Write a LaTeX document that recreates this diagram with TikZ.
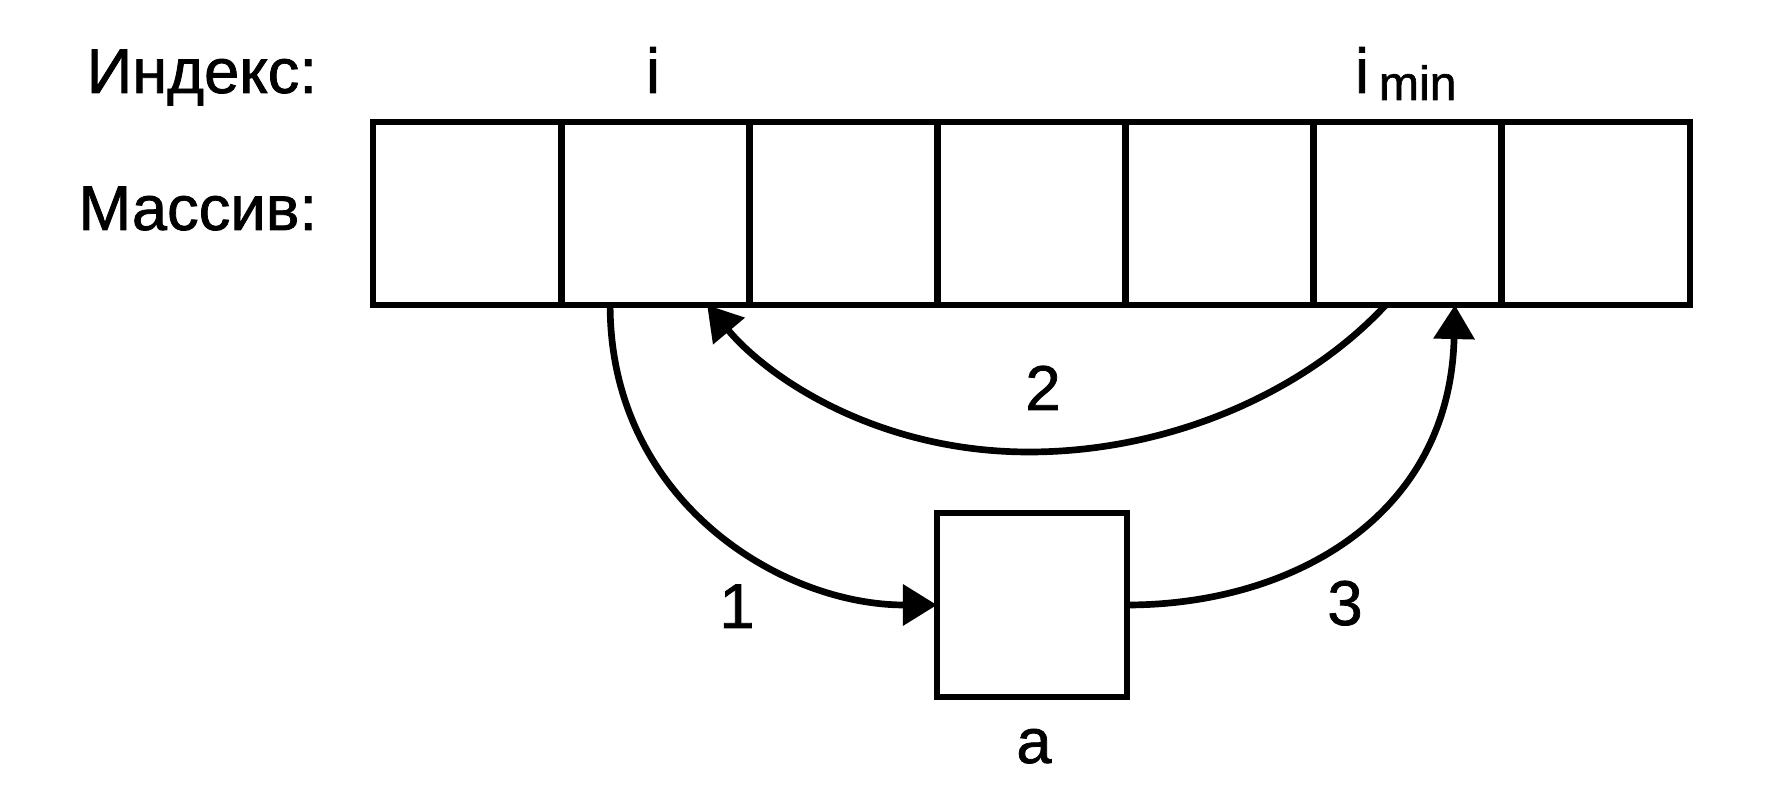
\documentclass[tikz,border=0pt]{standalone}
\usepackage{fontspec}
\setmainfont{Liberation Sans}[FakeBold=1.2]
\newfontfamily\heavy{Liberation Sans}[FakeBold=1.2]
\usetikzlibrary{arrows.meta,calc}
\begin{document}
\begin{tikzpicture}[x=0.01cm,y=-0.01cm,
  every node/.style={inner sep=0pt,outer sep=0pt},
  cell/.style={draw,line width=1.9pt,minimum width=1.8814cm,minimum height=1.83cm},
  lbl/.style={anchor=base,font=\heavy\fontsize{18}{22}\selectfont},
  conn/.style={line width=1.9pt,-{Triangle[length=0.34cm,width=0.40cm]}}]
\useasboundingbox (0,0) rectangle (1778,792);
% array cells
\foreach \k in {1,...,7}{
  \node[cell] (c\k) at ({467.07+188.14*(\k-1)},213.5) {};
}
% box a
\node[cell,minimum width=1.90cm,minimum height=1.84cm] (a) at (1032,605) {};
% labels
\node[lbl,anchor=base east] (lidx) at (317,93) {Индекс:};
\node[lbl,anchor=base east] (lmas) at (317,230) {Массив:};
\node[lbl] (li) at (653,93) {i};
\node[lbl,anchor=base west] (limin) at (1355,93) {i\hspace{2.8pt}\raisebox{-0.07cm}{\fontsize{13.7}{16}\selectfont min}};
\node[lbl] (la) at (1034,763) {a};
\node[lbl] (l1) at (737,628) {1};
\node[lbl] (l2) at (1043,410) {2};
\node[lbl] (l3) at (1345,625) {3};
% connectors
\draw[conn] ([xshift=0.49cm]c2.south west) .. controls +(0,195) and +(-157,0) .. (a.west);
\draw[conn] (a.east) .. controls +(163,0) and +(-5,213) .. ([xshift=-0.47cm]c6.south east);
\coordinate (m2) at (1029,452);
\draw[conn] ([xshift=0.72cm]c6.south west) .. controls (1305,392) and (1170,452) .. (m2)
  .. controls (880,452) and (770,380) .. ([xshift=1.46cm]c2.south west);
\end{tikzpicture}
\end{document}
